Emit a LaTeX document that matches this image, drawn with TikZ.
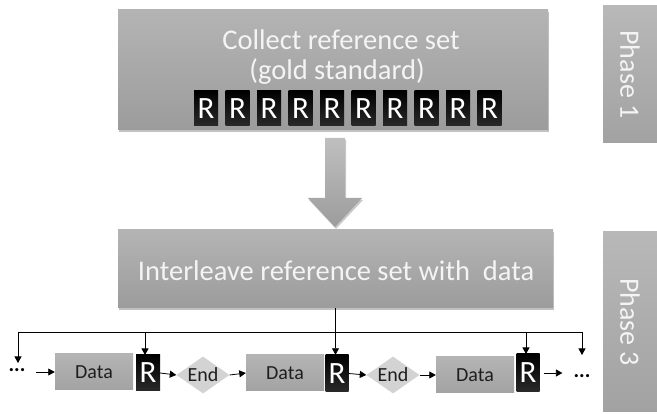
\documentclass[tikz,border=0pt]{standalone}
\usepackage{fontspec}
\setmainfont{Carlito}
\usetikzlibrary{shapes.geometric,arrows.meta,shadows}
\definecolor{boxtop}{HTML}{B4B4B4}
\definecolor{boxbot}{HTML}{9C9C9C}
\definecolor{phtop}{HTML}{B8B8B8}
\definecolor{phbot}{HTML}{A2A2A2}
\definecolor{datatop}{HTML}{B4B4B4}
\definecolor{databot}{HTML}{A3A3A3}
\definecolor{endfill}{HTML}{D3D3D3}
\definecolor{rbot}{HTML}{2A2A2A}
\definecolor{wtext}{HTML}{F4F4F4}
\definecolor{dtext}{HTML}{1E1E1E}
\begin{document}
\begin{tikzpicture}[x=1pt,y=-1pt,
  bigbox/.style={rectangle, inner sep=0pt, draw=none, top color=boxtop, bottom color=boxbot,
    drop shadow={opacity=0.35, shadow xshift=1.2pt, shadow yshift=-2.5pt, fill=black!70}},
  phasebox/.style={rectangle, inner sep=0pt, draw=none, top color=phtop, bottom color=phbot,
    minimum width=54pt},
  bigtext/.style={text=wtext, inner sep=0pt, font=\fontsize{28.5}{32}\selectfont},
  phasetext/.style={text=wtext, inner sep=0pt, rotate=-90, font=\fontsize{28}{32}\selectfont},
  rbox/.style={rectangle, inner sep=0pt, top color=black, bottom color=rbot, text=white,
    minimum width=24pt, minimum height=36pt, font=\fontsize{31}{34}\selectfont},
  databox/.style={rectangle, inner sep=0pt, top color=datatop, bottom color=databot, text=dtext,
    minimum width=78pt, minimum height=36pt, font=\fontsize{20}{23}\selectfont},
  endbox/.style={diamond, aspect=1.43, inner sep=0pt, fill=endfill, text=dtext,
    minimum width=53pt, minimum height=37pt, font=\fontsize{20}{23}\selectfont},
  dotsnode/.style={inner sep=0pt, text=black, font=\fontsize{21}{23}\selectfont\bfseries},
  conn/.style={draw=black, line width=0.8pt, -{Triangle[length=6.5pt,width=7pt]}},
  bus/.style={draw=black, line width=0.8pt},
  bigarrow/.style={draw=none, top color=boxtop!85!white, bottom color=boxbot,
    drop shadow={opacity=0.3, shadow xshift=1pt, shadow yshift=-2pt, fill=black!70}}
]
\useasboundingbox (0,0) rectangle (657,414);

% Phase boxes
\node[phasebox, minimum height=137pt] (ph1) at (630,74.5) {};
\node[phasetext] (ph1t) at (ph1.center) {Phase 1};
\node[phasebox, minimum height=180pt] (ph3) at (630,322) {};
\node[phasetext] (ph3t) at (ph3.center) {Phase 3};

% Top box
\node[bigbox, minimum width=430pt, minimum height=120pt] (collect) at (333,70) {};
\node[bigtext, anchor=base] (t1) at (341,50) {Collect reference set};
\node[bigtext, anchor=base] (t2) at (337,80) {(gold standard)};
\foreach \i in {0,...,9} {
  \node[rbox, minimum height=35pt] (rt\i) at (206+31.5*\i,108.5) {R};
}

% Big down arrow
\path[bigarrow] (325,138) -- (345,138) -- (345,198) -- (362,198) -- (335,227)
  -- (308,198) -- (325,198) -- cycle;

% Interleave box
\node[bigbox, minimum width=435pt, minimum height=78pt] (inter) at (335.5,269) {};
\node[bigtext, anchor=base] (t3) at (336,281) {Interleave reference set with\ \ data};

% Bottom row
\node[dotsnode] (dotsL) at (17,370) {...};
\node[databox] (data1) at (94,372) {Data};
\node[rbox] (r1) at (148,373) {R};
\node[endbox] (end1) at (203,375) {End};
\node[databox] (data2) at (285,373) {Data};
\node[rbox, minimum width=23pt, minimum height=37pt] (r2) at (337,373.5) {R};
\node[endbox] (end2) at (393,375) {End};
\node[databox] (data3) at (475,375) {Data};
\node[rbox, minimum width=23pt, minimum height=38pt] (r3) at (528,373) {R};
\node[dotsnode] (dotsR) at (582,376) {...};

% Bus
\coordinate (busL) at (18,332);
\coordinate (busR) at (582,332);
\draw[bus] (busL) -- (busR);
\draw[conn] (busL) -- (busL |- 0,363);
\draw[conn] (r1.north |- busL) ++(-3,0) -- ++(0,23);
\draw[conn] (inter.south) -- (inter.south |- r2.north);
\draw[conn] (r3.north |- busL) ++(-2,0) -- ++(0,22);
\draw[conn] (busR) -- (busR |- 0,355);

% Horizontal flow
\draw[conn, shorten <=10pt] (dotsL.east |- data1.west) -- (data1.west);
\draw[conn] (r1.east) -- (end1.west);
\draw[conn] (end1.east) -- (data2.west);
\draw[conn] (r2.east) -- (end2.west);
\draw[conn] (end2.east) -- (data3.west);
\draw[conn, shorten <=4pt, shorten >=11pt] (r3.east) -- (dotsR.west |- r3.east);
\end{tikzpicture}
\end{document}
